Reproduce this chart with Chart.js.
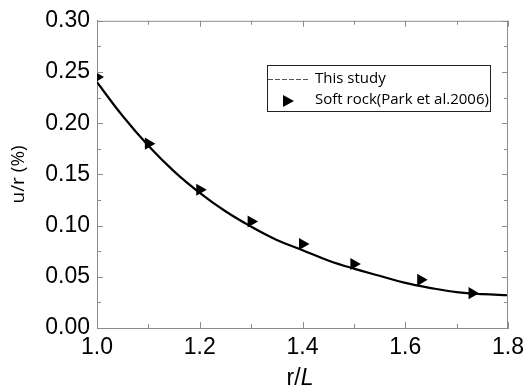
<!DOCTYPE html>
<html>
<head>
<meta charset="utf-8">
<script src="https://cdn.jsdelivr.net/npm/chart.js@4/dist/chart.umd.min.js"></script>
<style>
  html, body { margin: 0; padding: 0; background: #fff; }
  #wrap { width: 530px; height: 390px; }
</style>
</head>
<body>
<div id="wrap"><canvas id="grafico" width="530" height="390"></canvas></div>
<script>
// curva do modelo
var curveX = [1.00, 1.05, 1.10, 1.15, 1.20, 1.25, 1.30, 1.35, 1.40, 1.45, 1.50, 1.55, 1.60, 1.65, 1.70, 1.75, 1.80];
var curveY = [0.240, 0.207, 0.178, 0.153, 0.132, 0.114, 0.099, 0.086, 0.076, 0.066, 0.058, 0.051, 0.044, 0.039, 0.035, 0.033, 0.032];

// pontos medidos - Park et al. 2006
var rockX = [1.00, 1.10, 1.20, 1.30, 1.40, 1.50, 1.63, 1.73];
var rockY = [0.245, 0.180, 0.135, 0.104, 0.082, 0.0625, 0.047, 0.034];

var xTicks = [1.0, 1.2, 1.4, 1.6, 1.8];
var xMinor = [1.1, 1.3, 1.5, 1.7];
var yTicks = [0.00, 0.05, 0.10, 0.15, 0.20, 0.25, 0.30];
var yMinor = [0.025, 0.075, 0.125, 0.175, 0.225, 0.275];

var labels = ['This study', 'Soft rock(Park et al.2006)'];

function pares(xs, ys) {
    return xs.map(function (x, i) { return { x: x, y: ys[i] }; });
}

var eixoCor = '#8c8c8c';

// ticks para dentro nos quatro lados + borda superior/direita + titulo x + legenda
var molduraPlugin = {
    id: 'moldura',
    afterDraw: function (chart) {
        var c = chart.ctx, a = chart.chartArea;
        var sx = chart.scales.x, sy = chart.scales.y;
        c.save();
        c.strokeStyle = eixoCor;
        c.lineWidth = 1;
        c.beginPath();
        c.moveTo(a.left, a.top + 0.5); c.lineTo(a.right, a.top + 0.5);
        c.moveTo(a.right - 0.5, a.top); c.lineTo(a.right - 0.5, a.bottom);
        function tx(v, len) {
            var p = Math.round(sx.getPixelForValue(v)) + 0.5;
            c.moveTo(p, a.bottom); c.lineTo(p, a.bottom - len);
            c.moveTo(p, a.top); c.lineTo(p, a.top + len);
        }
        function ty(v, len) {
            var p = Math.round(sy.getPixelForValue(v)) + 0.5;
            c.moveTo(a.left, p); c.lineTo(a.left + len, p);
            c.moveTo(a.right, p); c.lineTo(a.right - len, p);
        }
        xTicks.forEach(function (v) { tx(v, 6); });
        xMinor.forEach(function (v) { tx(v, 4); });
        yTicks.forEach(function (v) { ty(v, 6); });
        yMinor.forEach(function (v) { ty(v, 4); });
        c.stroke();

        // titulo do eixo x: r/L com L em italico
        var f1 = '23px "Liberation Sans", Arial, sans-serif';
        var f2 = 'italic 23px "Liberation Sans", Arial, sans-serif';
        c.font = f1; var w1 = c.measureText('r/').width;
        c.font = f2; var w2 = c.measureText('L').width;
        var x0 = 300 - (w1 + w2) / 2, base = 385;
        c.fillStyle = '#000';
        c.textBaseline = 'alphabetic';
        c.textAlign = 'left';
        c.font = f1; c.fillText('r/', x0, base);
        c.font = f2; c.fillText('L', x0 + w1, base);

        // legenda
        var lx = 267, ly = 65, lw = 223, lh = 46;
        c.strokeStyle = '#222';
        c.strokeRect(lx + 0.5, ly + 0.5, lw, lh);
        c.strokeStyle = '#555';
        c.setLineDash([5, 2]);
        c.beginPath();
        c.moveTo(lx + 1, ly + 14.5); c.lineTo(lx + 42, ly + 14.5);
        c.stroke();
        c.setLineDash([]);
        c.fillStyle = '#000';
        c.beginPath();
        c.moveTo(lx + 16, ly + 30); c.lineTo(lx + 27, ly + 36); c.lineTo(lx + 16, ly + 42);
        c.closePath(); c.fill();
        c.font = '15px "Open Sans", sans-serif';
        c.textBaseline = 'middle';
        c.fillText(labels[0], lx + 48, ly + 14);
        c.fillText(labels[1], lx + 48, ly + 35);
        c.restore();
    }
};

var ctx = document.getElementById('grafico').getContext('2d');
var chart = new Chart(ctx, {
    type: 'scatter',
    data: {
        datasets: [{
            label: labels[0],
            data: pares(curveX, curveY),
            showLine: true,
            borderColor: '#000',
            borderWidth: 2.2,
            pointRadius: 0,
            tension: 0.4,
            order: 2
        }, {
            label: labels[1],
            data: pares(rockX, rockY),
            showLine: false,
            pointStyle: 'triangle',
            rotation: 90,
            pointRadius: 7,
            pointHoverRadius: 7,
            backgroundColor: '#000',
            borderColor: '#000',
            borderWidth: 0,
            clip: 0,
            order: 1
        }]
    },
    options: {
        responsive: false,
        animation: false,
        events: [],
        layout: { padding: { top: 20, right: 18, left: 0, bottom: 0 } },
        plugins: {
            legend: { display: false },
            tooltip: { enabled: false }
        },
        scales: {
            x: {
                type: 'linear',
                min: 1.0,
                max: 1.8,
                afterBuildTicks: function (s) { s.ticks = xTicks.map(function (v) { return { value: v }; }); },
                afterFit: function (s) { s.height = 62; },
                ticks: {
                    color: '#000',
                    padding: 6,
                    maxRotation: 0,
                    font: { family: '"Liberation Sans", Arial, sans-serif', size: 23 },
                    callback: function (v) { return v.toFixed(1); }
                },
                grid: { drawOnChartArea: false, drawTicks: false },
                border: { color: eixoCor, width: 1 }
            },
            y: {
                type: 'linear',
                min: 0,
                max: 0.30,
                afterBuildTicks: function (s) { s.ticks = yTicks.map(function (v) { return { value: v }; }); },
                afterFit: function (s) { s.width = 97; },
                ticks: {
                    color: '#000',
                    padding: 7,
                    font: { family: '"Liberation Sans", Arial, sans-serif', size: 23 },
                    callback: function (v) { return v.toFixed(2); }
                },
                grid: { drawOnChartArea: false, drawTicks: false },
                border: { color: eixoCor, width: 1 },
                title: {
                    display: true,
                    text: 'u/r (%)',
                    color: '#000',
                    padding: { top: 7, bottom: 0 },
                    font: { family: '"Open Sans", sans-serif', size: 19 }
                }
            }
        }
    },
    plugins: [molduraPlugin]
});
</script>
</body>
</html>
